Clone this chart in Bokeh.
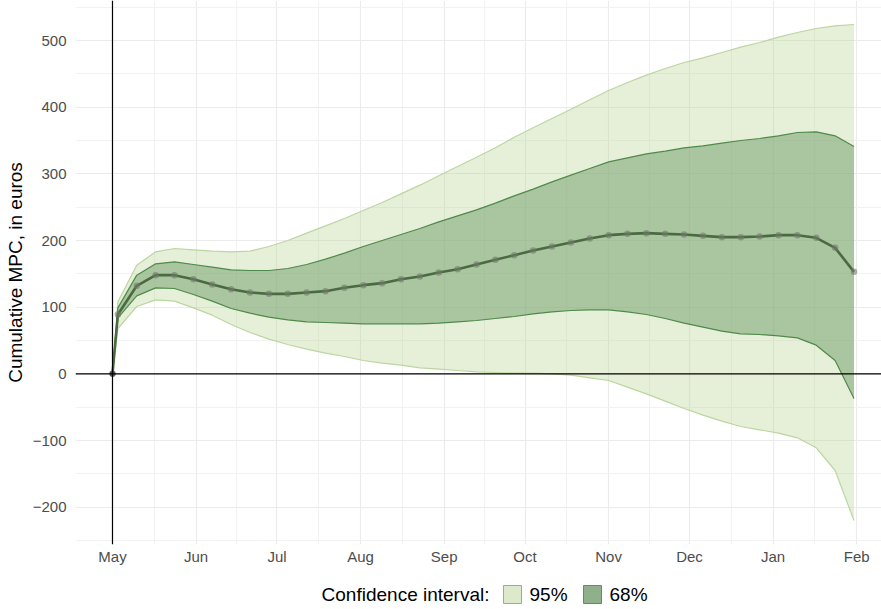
import numpy as np
from bokeh.plotting import figure
from bokeh.models import Range1d, FixedTicker, Span
from bokeh.layouts import column
from bokeh.embed import file_html
from bokeh.resources import INLINE
from bokeh.core.properties import value

# ---- data (days since 1 May) ----
days = [0, 2, 9, 16, 23, 30, 37, 44, 51, 58, 65, 72, 79, 86, 93, 100, 107, 114, 121, 128,
        135, 142, 149, 156, 163, 170, 177, 184, 191, 198, 205, 212, 219, 226, 233, 240,
        247, 254, 261, 268, 275]
mean = [0, 89, 132, 148, 148, 142, 134, 127, 122, 120, 120, 122, 124, 129, 133, 136, 142, 146,
        152, 157, 164, 171, 178, 185, 191, 197, 203, 208, 210, 211, 210, 209, 207, 205, 205,
        206, 208, 208, 204, 189, 153]
upper95 = [0, 108, 163, 183, 188, 186, 184, 183, 184, 191, 200, 211, 222, 233, 245, 257, 270,
           283, 297, 311, 325, 339, 355, 369, 383, 397, 411, 425, 437, 448, 458, 467, 474, 482,
           490, 497, 505, 512, 518, 522, 524]
upper68 = [0, 99, 148, 165, 168, 164, 160, 156, 155, 155, 158, 164, 172, 181, 191, 200, 209,
           218, 228, 237, 246, 256, 267, 277, 288, 298, 308, 318, 324, 330, 334, 339, 342, 346,
           350, 353, 357, 362, 363, 357, 341]
lower68 = [0, 84, 117, 129, 128, 119, 109, 98, 91, 85, 81, 78, 77, 76, 75, 75, 75, 75, 76, 78,
           80, 83, 86, 90, 93, 95, 96, 96, 93, 89, 83, 76, 70, 64, 60, 59, 57, 54, 43, 20, -37]
lower95 = [0, 68, 101, 111, 109, 99, 88, 74, 62, 52, 44, 37, 31, 26, 20, 16, 13, 9, 7, 5, 3, 2,
           1, 1, 0, -2, -6, -10, -20, -30, -41, -52, -62, -71, -79, -84, -89, -96, -111, -145,
           -220]
month_ticks = [0, 31, 61, 92, 123, 153, 184, 214, 245, 276]
month_labels = ["May", "Jun", "Jul", "Aug", "Sep", "Oct", "Nov", "Dec", "Jan", "Feb"]
minor_month_ticks = [15.5, 46, 76.5, 107.5, 138, 168.5, 199, 229.5, 260.5]
y_ticks = [-200, -100, 0, 100, 200, 300, 400, 500]
y_minor_ticks = [-250, -150, -50, 50, 150, 250, 350, 450, 550]
legend_title = "Confidence interval:"
legend_labels = ["95%", "68%"]

FONT = "Liberation Sans"

p = figure(width=881, height=575, x_range=Range1d(-13.72, 285.2), y_range=Range1d(-256, 560),
           toolbar_location=None, output_backend="svg",
           min_border_left=75, min_border_right=0, min_border_top=0, min_border_bottom=31)
p.outline_line_color = None
p.background_fill_color = "white"

# grids and axes
p.xaxis.ticker = FixedTicker(ticks=month_ticks, minor_ticks=minor_month_ticks)
p.yaxis.ticker = FixedTicker(ticks=y_ticks, minor_ticks=y_minor_ticks)
p.xaxis.major_label_overrides = {t: l for t, l in zip(month_ticks, month_labels)}
for g in (p.xgrid[0], p.ygrid[0]):
    g.grid_line_color = "#ebebeb"
    g.grid_line_width = 1.1
    g.minor_grid_line_color = "#f2f2f2"
    g.minor_grid_line_width = 1

for ax in (p.xaxis[0], p.yaxis[0]):
    ax.axis_line_color = None
    ax.major_tick_line_color = None
    ax.minor_tick_line_color = None
    ax.major_tick_out = 0
    ax.major_tick_in = 0
    ax.minor_tick_out = 0
    ax.minor_tick_in = 0
    ax.major_label_text_color = "#4d4d4d"
    ax.major_label_text_font = FONT
    ax.major_label_text_font_size = "15px"
p.xaxis.major_label_standoff = 3
p.yaxis.major_label_standoff = 9
p.yaxis.axis_label = "Cumulative MPC, in euros"
p.yaxis.axis_label_text_font = FONT
p.yaxis.axis_label_text_font_size = "19px"
p.yaxis.axis_label_text_font_style = "normal"
p.yaxis.axis_label_text_color = "black"
p.yaxis.axis_label_standoff = 4

# bands
p.varea(x=days, y1=lower95, y2=upper95, fill_color="#b8d08f", fill_alpha=0.35)
p.line(days, upper95, line_color="#bcd6a0", line_width=1.2)
p.line(days, lower95, line_color="#bcd6a0", line_width=1.2)
p.varea(x=days, y1=lower68, y2=upper68, fill_color="#80aa7b", fill_alpha=0.6)
p.line(days, upper68, line_color="#4f8a4a", line_width=1.2)
p.line(days, lower68, line_color="#4f8a4a", line_width=1.2)

# reference lines
p.add_layout(Span(location=0, dimension="width", line_color="black", line_width=1.2))
p.add_layout(Span(location=0, dimension="height", line_color="black", line_width=1.2))

# mean
p.line(days, mean, line_color="#4b6a43", line_width=2.6)
p.scatter(days, mean, size=6.5, fill_color="#6f7b69", line_color=None, fill_alpha=0.6)
p.scatter(days[:1], mean[:1], size=6, fill_color="#444444", line_color=None, fill_alpha=0.8)

# legend strip (its own small figure, coordinates = page pixels)
leg = figure(width=881, height=34, x_range=Range1d(75, 881), y_range=Range1d(609, 575),
             toolbar_location=None, output_backend="svg",
             min_border_left=75, min_border_right=0, min_border_top=0, min_border_bottom=0,
             x_axis_location=None, y_axis_location=None)
leg.grid.visible = False
leg.outline_line_color = None
leg.text(x=[489], y=[594], text=[legend_title], text_align="right",
         text_baseline="middle", text_font=value(FONT), text_font_size="19px",
         text_color="black")
leg.rect(x=[512], y=[594], width=18, height=18, fill_color="#dde9cb", line_color="#8bbb6c",
         line_width=1)
leg.text(x=[529], y=[594], text=[legend_labels[0]], text_align="left", text_baseline="middle",
         text_font=value(FONT), text_font_size="19px", text_color="black")
leg.rect(x=[592], y=[594], width=18, height=18, fill_color="#8fb08a", line_color="#5e9058",
         line_width=1)
leg.text(x=[609], y=[594], text=[legend_labels[1]], text_align="left", text_baseline="middle",
         text_font=value(FONT), text_font_size="19px", text_color="black")

layout = column(p, leg, spacing=0)
open("out.html", "w").write(file_html(layout, INLINE))
